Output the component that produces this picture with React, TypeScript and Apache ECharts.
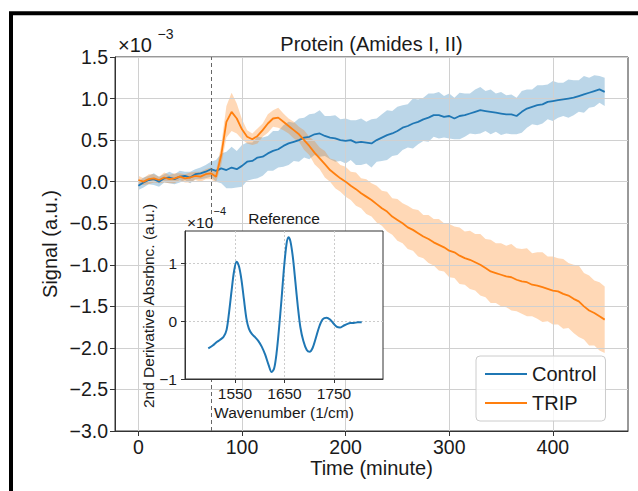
import React, { useEffect, useRef } from 'react';
import * as echarts from 'echarts';

// ---- data (values in units of 1e-3, time in minutes) ----
const timeMin: number[] = Array.from({ length: 91 }, (_, i) => i * 5);

const controlMean = [
  -0.05, -0.01, 0.02, 0.03, 0.0, 0.04, 0.05, 0.03, 0.06, 0.07, 0.05, 0.09, 0.1,
  0.12, 0.15, 0.13, 0.16, 0.14, 0.17, 0.15, 0.19,
  0.24, 0.25, 0.29, 0.3, 0.34, 0.37, 0.39, 0.43, 0.46, 0.48,
  0.5, 0.53, 0.54, 0.57, 0.58, 0.55, 0.53, 0.52, 0.5, 0.49,
  0.5, 0.47, 0.48, 0.47, 0.46, 0.5, 0.53, 0.56, 0.58, 0.61,
  0.65, 0.67, 0.7, 0.72, 0.75, 0.77, 0.8, 0.8, 0.78, 0.79,
  0.76, 0.79, 0.8, 0.82, 0.84, 0.86, 0.85, 0.84, 0.83, 0.82,
  0.81, 0.81, 0.79, 0.84, 0.88, 0.9, 0.92, 0.93, 0.96, 0.97,
  0.98, 0.99, 1.0, 1.01, 1.03, 1.05, 1.07, 1.09, 1.11, 1.08,
];

const controlSd = [
  0.05, 0.06, 0.05, 0.07, 0.06, 0.05, 0.07, 0.06, 0.07, 0.05, 0.07, 0.06, 0.07,
  0.08, 0.09, 0.13, 0.18, 0.22, 0.25, 0.22, 0.25,
  0.23, 0.22, 0.25, 0.23, 0.21, 0.24, 0.22, 0.25, 0.26, 0.23,
  0.26, 0.24, 0.27, 0.25, 0.28, 0.24, 0.26, 0.28, 0.25, 0.27,
  0.24, 0.27, 0.28, 0.25, 0.29, 0.26, 0.28, 0.3, 0.27, 0.29,
  0.27, 0.26, 0.3, 0.27, 0.26, 0.29, 0.26, 0.28, 0.25, 0.27,
  0.25, 0.28, 0.26, 0.24, 0.27, 0.28, 0.24, 0.27, 0.23, 0.26,
  0.23, 0.24, 0.22, 0.25, 0.23, 0.21, 0.24, 0.23, 0.21, 0.24,
  0.21, 0.2, 0.23, 0.21, 0.19, 0.22, 0.18, 0.19, 0.16, 0.17,
];

const tripMean = [
  0.02, 0.0, 0.03, 0.04, 0.02, 0.05, 0.03, 0.04, 0.06, 0.04, 0.05, 0.07, 0.06,
  0.09, 0.1, 0.06, 0.32, 0.72, 0.84, 0.76, 0.63,
  0.54, 0.51, 0.55, 0.62, 0.7, 0.76, 0.77, 0.72, 0.67, 0.62,
  0.57, 0.5, 0.43, 0.35, 0.28, 0.21, 0.14, 0.09, 0.04, 0.0,
  -0.05, -0.09, -0.14, -0.18, -0.22, -0.27, -0.32, -0.36, -0.42, -0.46,
  -0.5, -0.55, -0.58, -0.62, -0.66, -0.69, -0.73, -0.76, -0.79, -0.83,
  -0.85, -0.89, -0.92, -0.94, -0.97, -1.0, -1.04, -1.08, -1.1, -1.12,
  -1.14, -1.15, -1.18, -1.2, -1.21, -1.24, -1.25, -1.27, -1.29, -1.31,
  -1.32, -1.35, -1.37, -1.41, -1.44, -1.5, -1.55, -1.58, -1.62, -1.66,
];

const tripSd = [
  0.05, 0.04, 0.06, 0.05, 0.04, 0.06, 0.05, 0.06, 0.04, 0.05, 0.06, 0.05, 0.06,
  0.06, 0.07, 0.07, 0.12, 0.19, 0.23, 0.18, 0.12,
  0.08, 0.07, 0.09, 0.08, 0.11, 0.1, 0.12, 0.1, 0.09, 0.1,
  0.09, 0.12, 0.11, 0.14, 0.13, 0.16, 0.14, 0.17, 0.16, 0.18,
  0.17, 0.2, 0.18, 0.21, 0.2, 0.22, 0.21, 0.24, 0.22, 0.25,
  0.24, 0.26, 0.25, 0.28, 0.26, 0.29, 0.28, 0.31, 0.29, 0.32,
  0.31, 0.34, 0.32, 0.35, 0.34, 0.37, 0.35, 0.38, 0.36, 0.38,
  0.37, 0.4, 0.38, 0.39, 0.41, 0.38, 0.4, 0.42, 0.39, 0.41,
  0.4, 0.42, 0.39, 0.41, 0.43, 0.4, 0.42, 0.39, 0.41, 0.4,
];

// inset: reference 2nd derivative spectrum (units of 1e-4)
const wavenumber = [
  1496, 1505, 1513, 1520, 1527, 1533, 1538, 1543, 1548, 1553, 1558, 1563, 1568,
  1573, 1578, 1584, 1590, 1597, 1604, 1611, 1618, 1624, 1629, 1634, 1639, 1644,
  1649, 1654, 1658, 1662, 1667, 1672, 1677, 1682, 1688, 1695, 1701, 1707, 1713,
  1720, 1727, 1735, 1742, 1749, 1756, 1762, 1769, 1776, 1783, 1790, 1798, 1806,
];
const refDeriv = [
  -0.47, -0.42, -0.36, -0.32, -0.27, -0.15, 0.15, 0.52, 0.86, 1.03, 0.95, 0.72, 0.38,
  0.05, -0.13, -0.22, -0.27, -0.34, -0.44, -0.58, -0.76, -0.88, -0.82, -0.55, -0.12, 0.38,
  0.92, 1.33, 1.45, 1.38, 1.1, 0.68, 0.25, -0.1, -0.34, -0.5, -0.53, -0.46, -0.3,
  -0.1, 0.03, 0.06, 0.03, -0.04, -0.1, -0.11, -0.08, -0.05, -0.03, -0.03, -0.02, -0.02,
];

const xTicks = [0, 100, 200, 300, 400];
const insetXTicks = [1550, 1650, 1750];
const insetYTicks = [-1, 0, 1];
const markerTime = 70;

const FONT = '"Liberation Sans", Arial, Helvetica, sans-serif';
const BLUE = '#1f77b4';
const ORANGE = '#ff7f0e';
const TXT = '#1a1a1a';
const AX = '#333333';

const minus = (s: string) => s.replace('-', '\u2212');

export default function App() {
  const ref = useRef<HTMLDivElement>(null);

  useEffect(() => {
    const chart = echarts.init(ref.current!, null, { renderer: 'svg' });

    const pairs = (xs: number[], ys: number[]) => xs.map((x, i) => [x, ys[i]]);

    const band = (name: string, mean: number[], sd: number[], fill: string) => ({
      type: 'custom',
      name,
      xAxisIndex: 0,
      yAxisIndex: 0,
      silent: true,
      clip: true,
      z: 1,
      data: timeMin.map((t, i) => [t, mean[i] - sd[i], mean[i] + sd[i]]),
      encode: { x: 0, y: [1, 2] },
      renderItem: (params: any, api: any) => {
        if (params.dataIndex !== 0) return null;
        const up: number[][] = [];
        const lo: number[][] = [];
        for (let i = 0; i < timeMin.length; i++) {
          up.push(api.coord([timeMin[i], mean[i] + sd[i]]));
          lo.push(api.coord([timeMin[i], mean[i] - sd[i]]));
        }
        return {
          type: 'polygon',
          shape: { points: up.concat(lo.reverse()) },
          style: { fill, stroke: 'none' },
        };
      },
    });

    const text = (
      t: string,
      x: number,
      y: number,
      size: number,
      opts: any = {}
    ) => ({
      type: 'text',
      x,
      y,
      z: 30,
      rotation: opts.rotation || 0,
      style: {
        text: t,
        fontSize: size,
        fontFamily: FONT,
        fill: TXT,
        align: opts.align || 'center',
        verticalAlign: 'middle',
      },
    });

    const option: any = {
      animation: false,
      backgroundColor: '#ffffff',
      textStyle: { fontFamily: FONT },
      grid: [
        {
          left: 115,
          top: 57,
          width: 513,
          height: 374,
          show: true,
          borderColor: AX,
          borderWidth: 1,
          backgroundColor: 'transparent',
        },
        {
          left: 185,
          top: 231,
          width: 198,
          height: 148,
          show: true,
          borderColor: AX,
          borderWidth: 1,
          backgroundColor: '#ffffff',
          z: 10,
        },
      ],
      xAxis: [
        {
          gridIndex: 0,
          type: 'value',
          min: -22.5,
          max: 472.5,
          z: 2,
          axisLine: { show: true, onZero: false, lineStyle: { color: AX, width: 1 } },
          axisTick: { show: true, inside: false, length: 5, customValues: xTicks, lineStyle: { color: AX } },
          axisLabel: {
            customValues: xTicks,
            fontSize: 19.5,
            color: TXT,
            margin: 6,
            fontFamily: FONT,
            formatter: (v: number) => String(v),
          },
          splitLine: { show: true, lineStyle: { color: '#d0d0d0', width: 1 } },
        },
        {
          gridIndex: 1,
          type: 'value',
          min: 1449,
          max: 1849,
          z: 11,
          axisLine: { show: true, onZero: false, lineStyle: { color: AX, width: 1 } },
          axisTick: { show: true, inside: false, length: 4, customValues: insetXTicks, lineStyle: { color: AX } },
          axisLabel: {
            customValues: insetXTicks,
            fontSize: 15.5,
            color: TXT,
            margin: 6,
            fontFamily: FONT,
            formatter: (v: number) => String(v),
          },
          splitLine: { show: true, lineStyle: { color: '#cccccc', width: 1, type: [2, 2] } },
        },
      ],
      yAxis: [
        {
          gridIndex: 0,
          type: 'value',
          min: -3,
          max: 1.5,
          interval: 0.5,
          z: 2,
          axisLine: { show: true, onZero: false, lineStyle: { color: AX, width: 1 } },
          axisTick: { show: true, inside: false, length: 5, lineStyle: { color: AX } },
          axisLabel: {
            fontSize: 19.5,
            color: TXT,
            margin: 7,
            fontFamily: FONT,
            formatter: (v: number) => minus(v.toFixed(1)),
          },
          splitLine: { show: true, lineStyle: { color: '#d0d0d0', width: 1 } },
        },
        {
          gridIndex: 1,
          type: 'value',
          min: -1,
          max: 1.56,
          z: 11,
          axisLine: { show: true, onZero: false, lineStyle: { color: AX, width: 1 } },
          axisTick: { show: true, inside: false, length: 4, customValues: insetYTicks, lineStyle: { color: AX } },
          axisLabel: {
            customValues: insetYTicks,
            fontSize: 15.5,
            color: TXT,
            margin: 8,
            fontFamily: FONT,
            formatter: (v: number) => minus(String(Math.round(v))),
          },
          splitLine: { show: true, lineStyle: { color: '#cccccc', width: 1, type: [2, 2] } },
        },
      ],
      legend: {
        data: [
          { name: 'Control', icon: 'rect' },
          { name: 'TRIP', icon: 'rect' },
        ],
        orient: 'vertical',
        left: 476,
        top: 356,
        padding: [7, 9, 7, 9],
        itemWidth: 42,
        itemHeight: 2,
        itemGap: 7,
        itemTextGap: 16,
        selectedMode: false,
        backgroundColor: 'rgba(255,255,255,0.8)',
        borderColor: '#cccccc',
        borderWidth: 1,
        borderRadius: 4,
        z: 20,
        itemStyle: { borderWidth: 0 },
        lineStyle: { width: 0 },
        textStyle: { fontSize: 20, fontFamily: FONT, color: TXT, lineHeight: 22 },
      },
      series: [
        band('Control band', controlMean, controlSd, 'rgba(31,119,180,0.3)'),
        {
          type: 'line',
          name: 'Control',
          xAxisIndex: 0,
          yAxisIndex: 0,
          data: pairs(timeMin, controlMean),
          symbol: 'none',
          showSymbol: false,
          z: 3,
          lineStyle: { color: BLUE, width: 1.8 },
          itemStyle: { color: BLUE },
          markLine: {
            silent: true,
            symbol: ['none', 'none'],
            label: { show: false },
            z: 4,
            lineStyle: { color: '#666666', type: [4, 3], width: 1 },
            data: [{ xAxis: markerTime }],
          },
        },
        band('TRIP band', tripMean, tripSd, 'rgba(255,127,14,0.3)'),
        {
          type: 'line',
          name: 'TRIP',
          xAxisIndex: 0,
          yAxisIndex: 0,
          data: pairs(timeMin, tripMean),
          symbol: 'none',
          showSymbol: false,
          z: 3,
          lineStyle: { color: ORANGE, width: 1.8 },
          itemStyle: { color: ORANGE },
        },
        {
          type: 'line',
          name: 'Reference',
          xAxisIndex: 1,
          yAxisIndex: 1,
          data: pairs(wavenumber, refDeriv),
          symbol: 'none',
          showSymbol: false,
          smooth: 0.3,
          z: 12,
          lineStyle: { color: BLUE, width: 2 },
          itemStyle: { color: BLUE },
        },
      ],
      graphic: [
        {
          type: 'rect',
          z: 40,
          silent: true,
          shape: { x: 11, y: 13.3, width: 700, height: 700 },
          style: { fill: 'none', stroke: '#000000', lineWidth: 4 },
        },
        text('Protein (Amides I, II)', 371.5, 44, 20),
        text('\u00d710', 118, 45, 20, { align: 'left' }),
        text('\u22123', 157.5, 33.5, 14, { align: 'left' }),
        text('Signal (a.u.)', 50, 244, 20, { rotation: Math.PI / 2 }),
        text('Time (minute)', 371.5, 468, 20),
        text('Reference', 284, 218.5, 15.5),
        text('\u00d710', 187, 222, 15.5, { align: 'left' }),
        text('\u22124', 213.5, 211, 11, { align: 'left' }),
        text('2nd Derivative Absrbnc. (a.u.)', 148, 306, 15.5, { rotation: Math.PI / 2 }),
        text('Wavenumber (1/cm)', 284, 412, 15.5),
      ],
    };

    chart.setOption(option);
    return () => chart.dispose();
  }, []);

  return (
    <div
      ref={ref}
      style={{ position: 'fixed', left: 0, top: 0, width: 638, height: 491, background: '#fff' }}
    />
  );
}
